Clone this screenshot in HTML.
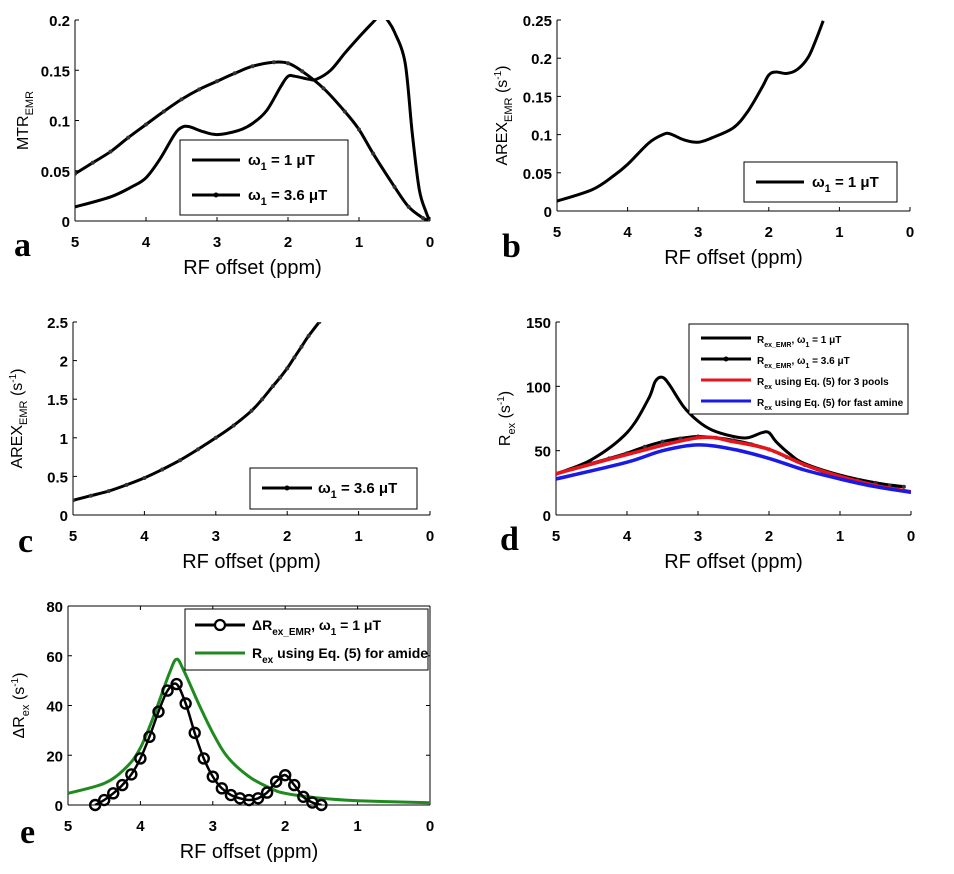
<!DOCTYPE html>
<html><head><meta charset="utf-8"><style>
body{margin:0;background:#fff}
svg{display:block;font-family:"Liberation Sans",Arial,sans-serif}
.tk{font-size:15px;font-weight:bold}
.xl{font-size:20px}
.yl{font-size:16px}
.let{font-family:"Liberation Serif",serif;font-weight:bold;font-size:34px}
.lg{font-size:15px;font-weight:bold}
.lge{font-size:14px;font-weight:bold}
.lgs{font-size:10px;font-weight:bold}
</style></head><body>
<svg id="fig" width="954" height="874" viewBox="0 0 954 874"></svg>
<script>
// ---- data ----
const aX1=[5,4.5,4.2,4,3.8,3.6,3.5,3.4,3.2,3,2.7,2.5,2.3,2.1,2,1.9,1.7,1.6,1.4,1.2,1,0.8,0.72,0.66,0.6,0.5,0.35,0.25,0.15,0.05,0];
const aY1=[0.014,0.024,0.034,0.043,0.062,0.086,0.093,0.094,0.089,0.086,0.09,0.097,0.11,0.134,0.144,0.144,0.141,0.141,0.15,0.167,0.183,0.198,0.204,0.206,0.2,0.188,0.157,0.087,0.031,0.008,0];
const aX2=[5,4.75,4.5,4.25,4,3.75,3.5,3.25,3,2.75,2.5,2.2,2,1.8,1.5,1.2,1,0.8,0.5,0.3,0.1,0];
const aY2=[0.047,0.058,0.069,0.083,0.096,0.109,0.121,0.131,0.139,0.147,0.154,0.158,0.157,0.149,0.132,0.109,0.091,0.067,0.034,0.014,0.003,0];
const bX=[5,4.5,4.2,4,3.7,3.5,3.4,3.2,3,2.8,2.5,2.3,2.1,2,1.9,1.75,1.6,1.45,1.35,1.23];
const bY=[0.013,0.028,0.046,0.061,0.089,0.1,0.101,0.093,0.09,0.096,0.109,0.13,0.161,0.178,0.182,0.18,0.185,0.2,0.22,0.249];
const cX=[5,4.75,4.5,4.25,4,3.75,3.5,3.25,3,2.75,2.5,2.35,2.2,2.1,2,1.9,1.8,1.7,1.55];
const cY=[0.19,0.25,0.31,0.39,0.48,0.59,0.71,0.85,1.0,1.16,1.35,1.5,1.67,1.78,1.9,2.04,2.18,2.32,2.5];
const dX1=[5,4.5,4,3.7,3.6,3.5,3.4,3.2,3,2.8,2.5,2.3,2.1,2,1.9,1.7,1.5,1,0.5,0.1];
const dY1=[32,43,64,90,104,107,101,84,73,66,61,60,64,64,57,47,40,31,25,22];
const dX2=[5,4.75,4.5,4.25,4,3.75,3.5,3.25,3,2.75,2.5,2.25,2,1.75,1.5,1.25,1,0.75,0.5,0.3,0.1];
const dY2=[32,36,40,44,48,53,57,59.5,61,60,58,55,51,45,39,34,30,27,25,23,22];
const dXr=[5,4,3,2.5,2,1.5,1,0.5,0];
const dYr=[32,47,60,57,51,39,30,23,18];
const dXb=[5,4,3.5,3,2.5,2,1.5,1,0.5,0];
const dYb=[28,41,50,54.5,51,44,35,28,22,17.6];
const eXc=[4.625,4.5,4.375,4.25,4.125,4,3.875,3.75,3.625,3.5,3.375,3.25,3.125,3,2.875,2.75,2.625,2.5,2.375,2.25,2.125,2,1.875,1.75,1.625,1.5];
const eYc=[0,2,4.7,8,12.3,18.7,27.4,37.5,46,48.6,40.8,29,18.7,11.4,6.7,4,2.7,2,2.7,5,9.4,12,8,3.3,1,0];
const eXg=[5,4.5,4.2,4,3.8,3.6,3.5,3.4,3.2,3,2.8,2.5,2.2,2,1.5,1,0];
const eYg=[4.7,8.7,15,23,37,53,58.6,54,41,29,19.4,11.4,6.7,4.7,2.7,1.7,0.9];
const xTicks=[5,4,3,2,1,0];
const aTicks=[0,0.05,0.1,0.15,0.2], bTicks=[0,0.05,0.1,0.15,0.2,0.25], cTicks=[0,0.5,1,1.5,2,2.5], dTicks=[0,50,100,150], eTicks=[0,20,40,60,80];

const NS='http://www.w3.org/2000/svg', svg=document.getElementById('fig');
function mk(tag,attrs,parent,text){const e=document.createElementNS(NS,tag);for(const k in attrs)e.setAttribute(k,attrs[k]);if(text!==undefined)e.textContent=text;(parent||svg).appendChild(e);return e;}
function smooth(pts){let d='M'+pts[0][0]+','+pts[0][1];for(let i=0;i<pts.length-1;i++){const p0=pts[Math.max(0,i-1)],p1=pts[i],p2=pts[i+1],p3=pts[Math.min(pts.length-1,i+2)];const c1=[p1[0]+(p2[0]-p0[0])/6,p1[1]+(p2[1]-p0[1])/6],c2=[p2[0]-(p3[0]-p1[0])/6,p2[1]-(p3[1]-p1[1])/6];d+=' C'+c1[0].toFixed(1)+','+c1[1].toFixed(1)+' '+c2[0].toFixed(1)+','+c2[1].toFixed(1)+' '+p2[0].toFixed(1)+','+p2[1].toFixed(1);}return d;}
let cid=0;
function panel(o){
  const g=mk('g',{});
  const sx=v=>o.x0+(5-v)/5*(o.x1-o.x0), sy=v=>o.yb-(v-o.ymin)/(o.ymax-o.ymin)*(o.yb-o.yt);
  const id='clip'+(cid++);
  const cp=mk('clipPath',{id:id},g);mk('rect',{x:o.x0,y:o.yt,width:o.x1-o.x0,height:o.yb-o.yt},cp);
  const ax=mk('g',{},g);
  mk('line',{x1:o.x0,y1:o.yt,x2:o.x0,y2:o.yb,stroke:'#000','stroke-width':1},ax);
  mk('line',{x1:o.x0,y1:o.yb,x2:o.x1,y2:o.yb,stroke:'#000','stroke-width':1},ax);
  if(o.box){mk('line',{x1:o.x0,y1:o.yt,x2:o.x1,y2:o.yt,stroke:'#000'},ax);mk('line',{x1:o.x1,y1:o.yt,x2:o.x1,y2:o.yb,stroke:'#000'},ax);}
  xTicks.forEach(t=>{const x=sx(t);mk('line',{x1:x,y1:o.yb,x2:x,y2:o.yb-4,stroke:'#000'},ax);if(o.box)mk('line',{x1:x,y1:o.yt,x2:x,y2:o.yt+4,stroke:'#000'},ax);
    const tl=mk('text',{x:x,y:o.yb+26,'text-anchor':'middle',class:'tk'},ax,String(t));});
  o.yTicks.forEach(t=>{const y=sy(t);mk('line',{x1:o.x0,y1:y,x2:o.x0+4,y2:y,stroke:'#000'},ax);if(o.box)mk('line',{x1:o.x1,y1:y,x2:o.x1-4,y2:y,stroke:'#000'},ax);
    const tl=mk('text',{x:o.x0-5,y:y+6,'text-anchor':'end',class:'tk'},ax,String(t));});
  const xt=mk('text',{x:(o.x0+o.x1)/2,y:o.yb+53,'text-anchor':'middle',class:'xl'},g,'RF offset (ppm)');
  const yt=mk('text',{x:0,y:0,'text-anchor':'middle',class:'yl',transform:'translate('+o.ylx+','+((o.yt+o.yb)/2)+') rotate(-90)'},g);yt.innerHTML=o.ylab;
  const lt=mk('text',{x:o.letx,y:o.lety,class:'let'},g,o.letter);
  const sg=mk('g',{'clip-path':'url(#'+id+')'},g);
  o.series.forEach(s=>{const pts=s.x.map((v,i)=>[sx(v),sy(s.y[i])]);
    const p=mk('path',{d:smooth(pts),fill:'none',stroke:s.color||'#000','stroke-width':s.w||3},sg);
    if(s.dots)pts.forEach(q=>{const c=mk('circle',{cx:q[0],cy:q[1],r:2,fill:'#333'},sg);});
    if(s.circ)pts.forEach(q=>{const c=mk('circle',{cx:q[0],cy:q[1],r:5,fill:'none',stroke:'#000','stroke-width':2.4},g);});
  });
  const L=o.legend, lg=mk('g',{},g);
  mk('rect',{x:L.x,y:L.y,width:L.w,height:L.h,fill:'#fff',stroke:'#000','stroke-width':1},lg);
  L.items.forEach((it,i)=>{const y=L.y+L.pad+i*L.dy;const e=mk('g',{},lg);
    mk('line',{x1:L.x+L.lx0,y1:y,x2:L.x+L.lx1,y2:y,stroke:it.color||'#000','stroke-width':it.w||3},e);
    if(it.dot)mk('circle',{cx:L.x+(L.lx0+L.lx1)/2,cy:y,r:2.5,fill:'#000'},e);
    if(it.circ)mk('circle',{cx:L.x+(L.lx0+L.lx1)/2,cy:y,r:5,fill:'#fff',stroke:'#000','stroke-width':2.2},e);
    const t=mk('text',{x:L.x+L.tx,y:y+5,class:L.cls||'lg'},e);t.innerHTML=it.label;});
}
const w1='ω<tspan dy="5" font-size="11">1</tspan><tspan dy="-5"> = 1 μT</tspan>';
const w36='ω<tspan dy="5" font-size="11">1</tspan><tspan dy="-5"> = 3.6 μT</tspan>';
const sm='<tspan dy="4" font-size="7">';
panel({name:'panel-a',x0:75,x1:430,yt:20,yb:221,ymin:0,ymax:0.2,yTicks:aTicks,ylx:28,ylab:'MTR<tspan dy="5" font-size="11">EMR</tspan>',letter:'a',letx:14,lety:256,
 series:[{name:'series-1uT',x:aX1,y:aY1},{name:'series-3.6uT',x:aX2,y:aY2,dots:true}],
 legend:{x:180,y:140,w:168,h:75,pad:20,dy:35,lx0:12,lx1:60,tx:68,items:[{label:w1},{label:w36,dot:true}]}});
panel({name:'panel-b',x0:557,x1:910,yt:20,yb:211,ymin:0,ymax:0.25,yTicks:bTicks,ylx:507,ylab:'AREX<tspan dy="5" font-size="11">EMR</tspan><tspan dy="-5"> (s</tspan><tspan dy="-6" font-size="10">-1</tspan><tspan dy="6">)</tspan>',letter:'b',letx:502,lety:257,
 series:[{name:'series-1uT',x:bX,y:bY}],
 legend:{x:744,y:162,w:153,h:40,pad:20,dy:0,lx0:12,lx1:60,tx:68,items:[{label:w1}]}});
panel({name:'panel-c',x0:73,x1:430,yt:322,yb:515,ymin:0,ymax:2.5,yTicks:cTicks,ylx:22,ylab:'AREX<tspan dy="5" font-size="11">EMR</tspan><tspan dy="-5"> (s</tspan><tspan dy="-6" font-size="10">-1</tspan><tspan dy="6">)</tspan>',letter:'c',letx:18,lety:552,
 series:[{name:'series-3.6uT',x:cX,y:cY,dots:true}],
 legend:{x:250,y:468,w:167,h:41,pad:20,dy:0,lx0:12,lx1:62,tx:68,items:[{label:w36,dot:true}]}});
panel({name:'panel-d',x0:556,x1:911,yt:322,yb:515,ymin:0,ymax:150,yTicks:dTicks,ylx:510,ylab:'R<tspan dy="5" font-size="11">ex</tspan><tspan dy="-5"> (s</tspan><tspan dy="-6" font-size="10">-1</tspan><tspan dy="6">)</tspan>',letter:'d',letx:500,lety:550,
 series:[{name:'series-rex-1uT',x:dX1,y:dY1},{name:'series-rex-3.6uT',x:dX2,y:dY2,dots:true},{name:'series-3pools',x:dXr,y:dYr,color:'#e8141b',w:3.5},{name:'series-fast-amine',x:dXb,y:dYb,color:'#1a1ae6',w:3.5}],
 legend:{x:689,y:324,w:219,h:90,pad:14,dy:21,lx0:12,lx1:62,tx:68,cls:'lgs',items:[
  {label:'R'+sm+'ex_EMR</tspan><tspan dy="-4">, ω</tspan>'+sm+'1</tspan><tspan dy="-4"> = 1 μT</tspan>'},
  {label:'R'+sm+'ex_EMR</tspan><tspan dy="-4">, ω</tspan>'+sm+'1</tspan><tspan dy="-4"> = 3.6 μT</tspan>',dot:true},
  {label:'R'+sm+'ex</tspan><tspan dy="-4"> using Eq. (5) for 3 pools</tspan>',color:'#e8141b'},
  {label:'R'+sm+'ex</tspan><tspan dy="-4"> using Eq. (5) for fast amine</tspan>',color:'#1a1ae6'}]}});
panel({name:'panel-e',x0:68,x1:430,yt:606,yb:805,ymin:0,ymax:80,yTicks:eTicks,box:true,ylx:24,ylab:'ΔR<tspan dy="5" font-size="11">ex</tspan><tspan dy="-5"> (s</tspan><tspan dy="-6" font-size="10">-1</tspan><tspan dy="6">)</tspan>',letter:'e',letx:20,lety:843,
 series:[{name:'series-green-amide',x:eXg,y:eYg,color:'#1f8a1f',w:3},{name:'series-delta-rex',x:eXc,y:eYc,w:2.5,circ:true}],
 legend:{x:185,y:609,w:243,h:61,pad:16,dy:28,lx0:10,lx1:60,tx:67,cls:'lge',items:[
  {label:'ΔR<tspan dy="5" font-size="10">ex_EMR</tspan><tspan dy="-5">, ω</tspan><tspan dy="5" font-size="10">1</tspan><tspan dy="-5"> = 1 μT</tspan>',circ:true},
  {label:'R<tspan dy="5" font-size="10">ex</tspan><tspan dy="-5"> using Eq. (5) for amide</tspan>',color:'#1f8a1f'}]}});
</script>
</body></html>
